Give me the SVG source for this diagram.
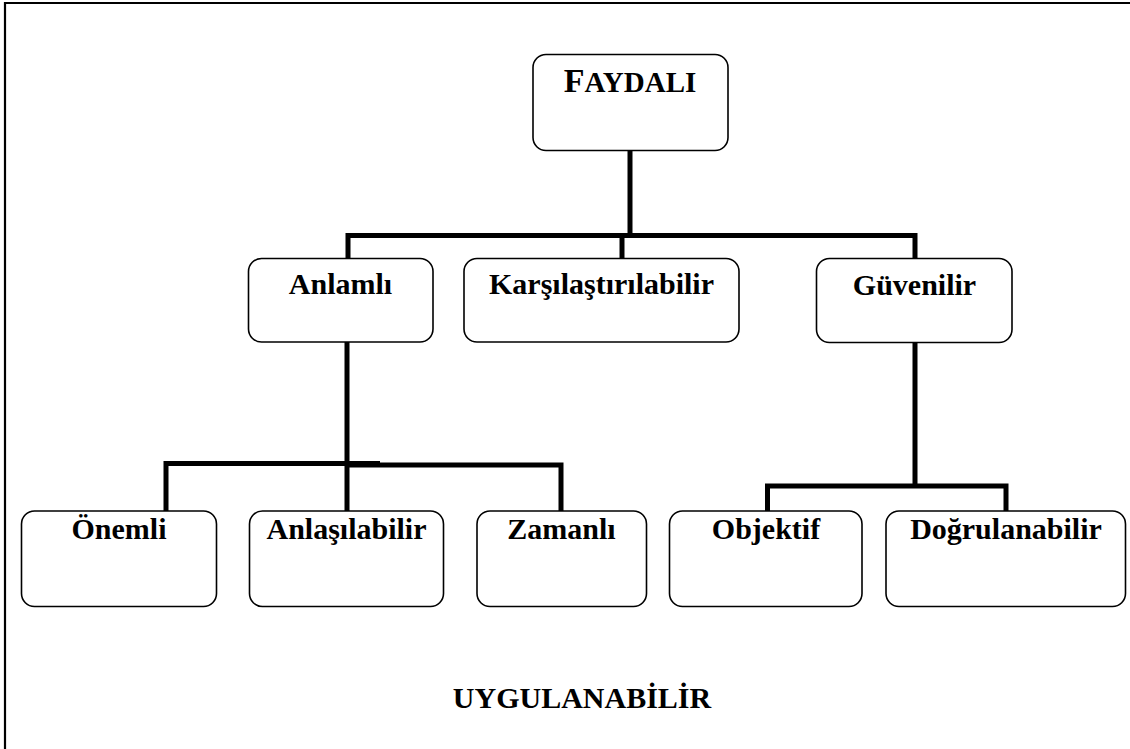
<svg xmlns="http://www.w3.org/2000/svg" width="1130" height="749" viewBox="0 0 1130 749">
<style>
.box{fill:#fff;stroke:#000;stroke-width:1.6}
.lbl{font-family:"Liberation Serif","Times New Roman",serif;font-weight:bold;font-size:30px;fill:#000;text-anchor:middle}
.con{fill:none;stroke:#000;stroke-width:5;stroke-linejoin:miter;stroke-linecap:butt}
</style>
<rect width="1130" height="749" fill="#fff"/>
<path d="M5,749 V3 H1130" fill="none" stroke="#000" stroke-width="2.2"/>
<g id="connectors">
<path class="con" d="M630,151 V238"/>
<path class="con" d="M348,258 V235.5 H915 V258"/>
<path class="con" d="M622,235 V258"/>
<path class="con" d="M347,342 V511"/>
<path class="con" d="M166,511 V463.5 H380"/>
<path class="con" d="M347,465 H561 V511"/>
<path class="con" d="M915,343 V486"/>
<path class="con" d="M767.5,511 V486 H1006 V511"/>
</g>
<g id="faydali">
<rect class="box" x="533" y="54.5" width="195" height="96" rx="13"/>
<text class="lbl" x="630" y="92"><tspan font-size="34">F</tspan><tspan font-size="29">AYDALI</tspan></text>
</g>
<g id="anlamli">
<rect class="box" x="248.5" y="258.5" width="184.5" height="83.5" rx="13"/>
<text class="lbl" x="340.5" y="294">Anlamlı</text>
</g>
<g id="karsilastirilabilir">
<rect class="box" x="464" y="258.5" width="275" height="83.5" rx="13"/>
<text class="lbl" x="601.5" y="294">Karşılaştırılabilir</text>
</g>
<g id="guvenilir">
<rect class="box" x="816.5" y="258.5" width="195.5" height="84" rx="13"/>
<text class="lbl" x="914.5" y="295">Güvenilir</text>
</g>
<g id="onemli">
<rect class="box" x="21.5" y="511" width="195" height="95.5" rx="13"/>
<text class="lbl" x="119" y="539">Önemli</text>
</g>
<g id="anlasilabilir">
<rect class="box" x="249.5" y="511" width="194" height="95.5" rx="13"/>
<text class="lbl" x="346.5" y="539">Anlaşılabilir</text>
</g>
<g id="zamanli">
<rect class="box" x="477" y="511" width="169.5" height="95.5" rx="13"/>
<text class="lbl" x="561.5" y="539">Zamanlı</text>
</g>
<g id="objektif">
<rect class="box" x="669.5" y="511" width="192.5" height="95.5" rx="13"/>
<text class="lbl" x="766" y="539">Objektif</text>
</g>
<g id="dogrulanabilir">
<rect class="box" x="886" y="511" width="239.5" height="95.5" rx="13"/>
<text class="lbl" x="1006" y="539">Doğrulanabilir</text>
</g>
<text class="lbl" x="582" y="708" font-size="27">UYGULANABİLİR</text>
</svg>
